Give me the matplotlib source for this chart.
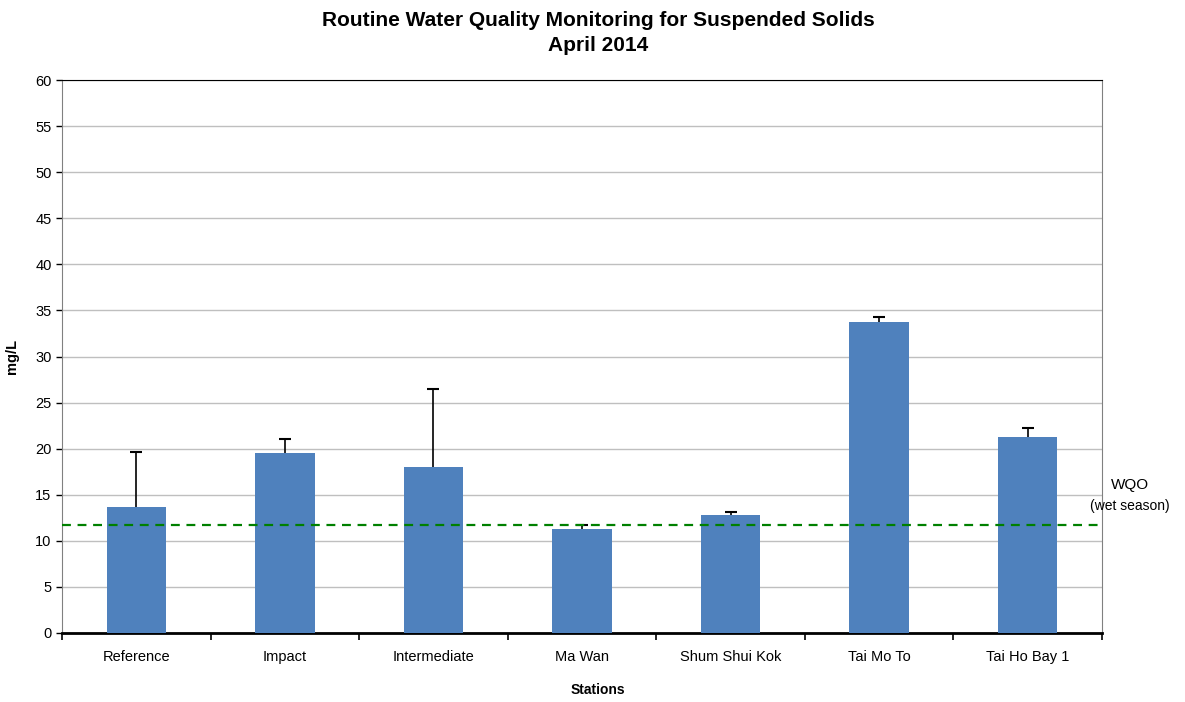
import matplotlib
matplotlib.use("Agg")
import matplotlib.pyplot as plt
import numpy as np

plt.rcParams['font.family'] = ['Liberation Sans', 'DejaVu Sans']

stations = ["Reference", "Impact", "Intermediate", "Ma Wan", "Shum Shui Kok", "Tai Mo To", "Tai Ho Bay 1"]
mean_ss = [13.7, 19.5, 18.0, 11.3, 12.8, 33.7, 21.3]
err_up = [5.9, 1.6, 8.5, 0.4, 0.3, 0.6, 0.9]
wqo = 11.7
yticks = list(range(0, 61, 5))

fig = plt.figure(figsize=(11.85, 7.02), dpi=100)
ax = fig.add_axes([62/1185, 1-633/702, 1040/1185, 553/702])

x = np.arange(len(stations))
mean_ss = np.array(mean_ss)
err_up = np.array(err_up)
ax.bar(x, mean_ss, width=0.4, color="#4f81bd", zorder=3)
# upper error bars only, cap at top
ax.vlines(x, mean_ss, mean_ss + err_up, color="black", linewidth=1.2, zorder=4)
ax.plot(x, mean_ss + err_up, linestyle="none", marker="_", markersize=8,
        markeredgewidth=1.5, color="black", zorder=4)
ax.axhline(wqo, color="#008000", linestyle=(0, (4, 3)), linewidth=1.6, zorder=5)

ax.set_xlim(-0.5, len(stations) - 0.5)
ax.set_ylim(0, 60)
ax.set_yticks(yticks)
ax.yaxis.grid(True, color="#bfbfbf", linewidth=1, zorder=0)
ax.set_axisbelow(True)

ax.set_xticks(x)
ax.set_xticklabels(stations, fontsize=10.5)
ax.tick_params(axis="x", length=0, pad=12)
ax.set_xticks(np.arange(-0.5, len(stations)), minor=True)
ax.tick_params(axis="x", which="minor", length=5, width=1.2, color="black")
ax.tick_params(axis="y", labelsize=10.5, length=4, width=1, direction="out")

for s in ["left", "right"]:
    ax.spines[s].set_color("#808080")
ax.spines["top"].set_color("black")
ax.spines["bottom"].set_color("black")
ax.spines["bottom"].set_linewidth(2)

ax.set_ylabel("mg/L", fontsize=10.5, fontweight="bold", labelpad=12)
fig.text(598/1185, 1-690/702, "Stations", fontsize=10, fontweight="bold", ha="center", va="center")
fig.text(598/1185, 1-33/702, "Routine Water Quality Monitoring for Suspended Solids\nApril 2014",
         fontsize=15, fontweight="bold", ha="center", va="center", linespacing=1.45)

fig.text(1130/1185, 1-485/702, "WQO", fontsize=11, ha="center", va="center")
fig.text(1130/1185, 1-506/702, "(wet season)", fontsize=10, ha="center", va="center")

fig.savefig("out.png", dpi=100)
